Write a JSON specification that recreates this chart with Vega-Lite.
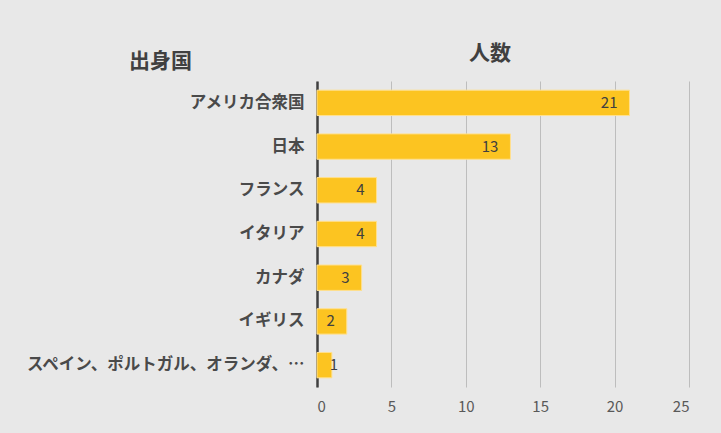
{
  "$schema": "https://vega.github.io/schema/vega-lite/v6.json",
  "autosize": {"type": "none"},
  "padding": {"left": 317, "top": 81, "right": 32, "bottom": 46},
  "width": 372,
  "height": 306,
  "background": "#e8e8e8",
  "title": {
    "text": "人数",
    "font": "Noto Sans CJK JP",
    "fontSize": 21,
    "fontWeight": "bold",
    "color": "#404040",
    "anchor": "middle",
    "dx": -13,
    "dy": 30,
    "offset": 16
  },
  "data": {
    "values": [
      {"出身国": "アメリカ合衆国", "人数": 21},
      {"出身国": "日本", "人数": 13},
      {"出身国": "フランス", "人数": 4},
      {"出身国": "イタリア", "人数": 4},
      {"出身国": "カナダ", "人数": 3},
      {"出身国": "イギリス", "人数": 2},
      {"出身国": "スペイン、ポルトガル、オランダ、…", "人数": 1}
    ]
  },
  "encoding": {
    "y": {
      "field": "出身国",
      "type": "nominal",
      "sort": null,
      "scale": {"paddingInner": 0.42, "paddingOuter": 0.21},
      "axis": {
        "title": "出身国",
        "titleAngle": 0,
        "titleX": -157,
        "titleY": -20,
        "titleAlign": "center",
        "titleBaseline": "middle",
        "titleFont": "Noto Sans CJK JP",
        "titleFontSize": 21,
        "titleFontWeight": "bold",
        "titleColor": "#404040",
        "labelFont": "Noto Sans CJK JP",
        "labelFontSize": 16.5,
        "labelFontWeight": "bold",
        "labelColor": "#4a4a4a",
        "labelPadding": 13,
        "labelLimit": 330,
        "ticks": false,
        "domainColor": "#404040",
        "domainWidth": 2.5,
        "grid": false
      }
    },
    "x": {
      "field": "人数",
      "type": "quantitative",
      "scale": {"domain": [0, 25]},
      "axis": {
        "title": null,
        "values": [0, 5, 10, 15, 20, 25],
        "labelFont": "Noto Sans CJK JP",
        "labelFontSize": 15,
        "labelColor": "#595959",
        "labelPadding": 12,
        "ticks": false,
        "domain": false,
        "grid": true,
        "gridColor": "#bdbdbd",
        "gridWidth": 1
      }
    }
  },
  "layer": [
    {
      "mark": {"type": "bar", "color": "#fcc421", "stroke": "#ffe08f", "strokeWidth": 1}
    },
    {
      "transform": [{"filter": "datum['人数'] >= 2"}],
      "mark": {"type": "text", "align": "right", "dx": -12, "font": "Noto Sans CJK JP", "fontSize": 15, "color": "#404040"},
      "encoding": {"text": {"field": "人数", "type": "quantitative"}}
    },
    {
      "transform": [{"filter": "datum['人数'] < 2"}],
      "mark": {"type": "text", "align": "center", "dx": 2, "font": "Noto Sans CJK JP", "fontSize": 15, "color": "#404040"},
      "encoding": {"text": {"field": "人数", "type": "quantitative"}}
    }
  ],
  "config": {"view": {"stroke": null}}
}
